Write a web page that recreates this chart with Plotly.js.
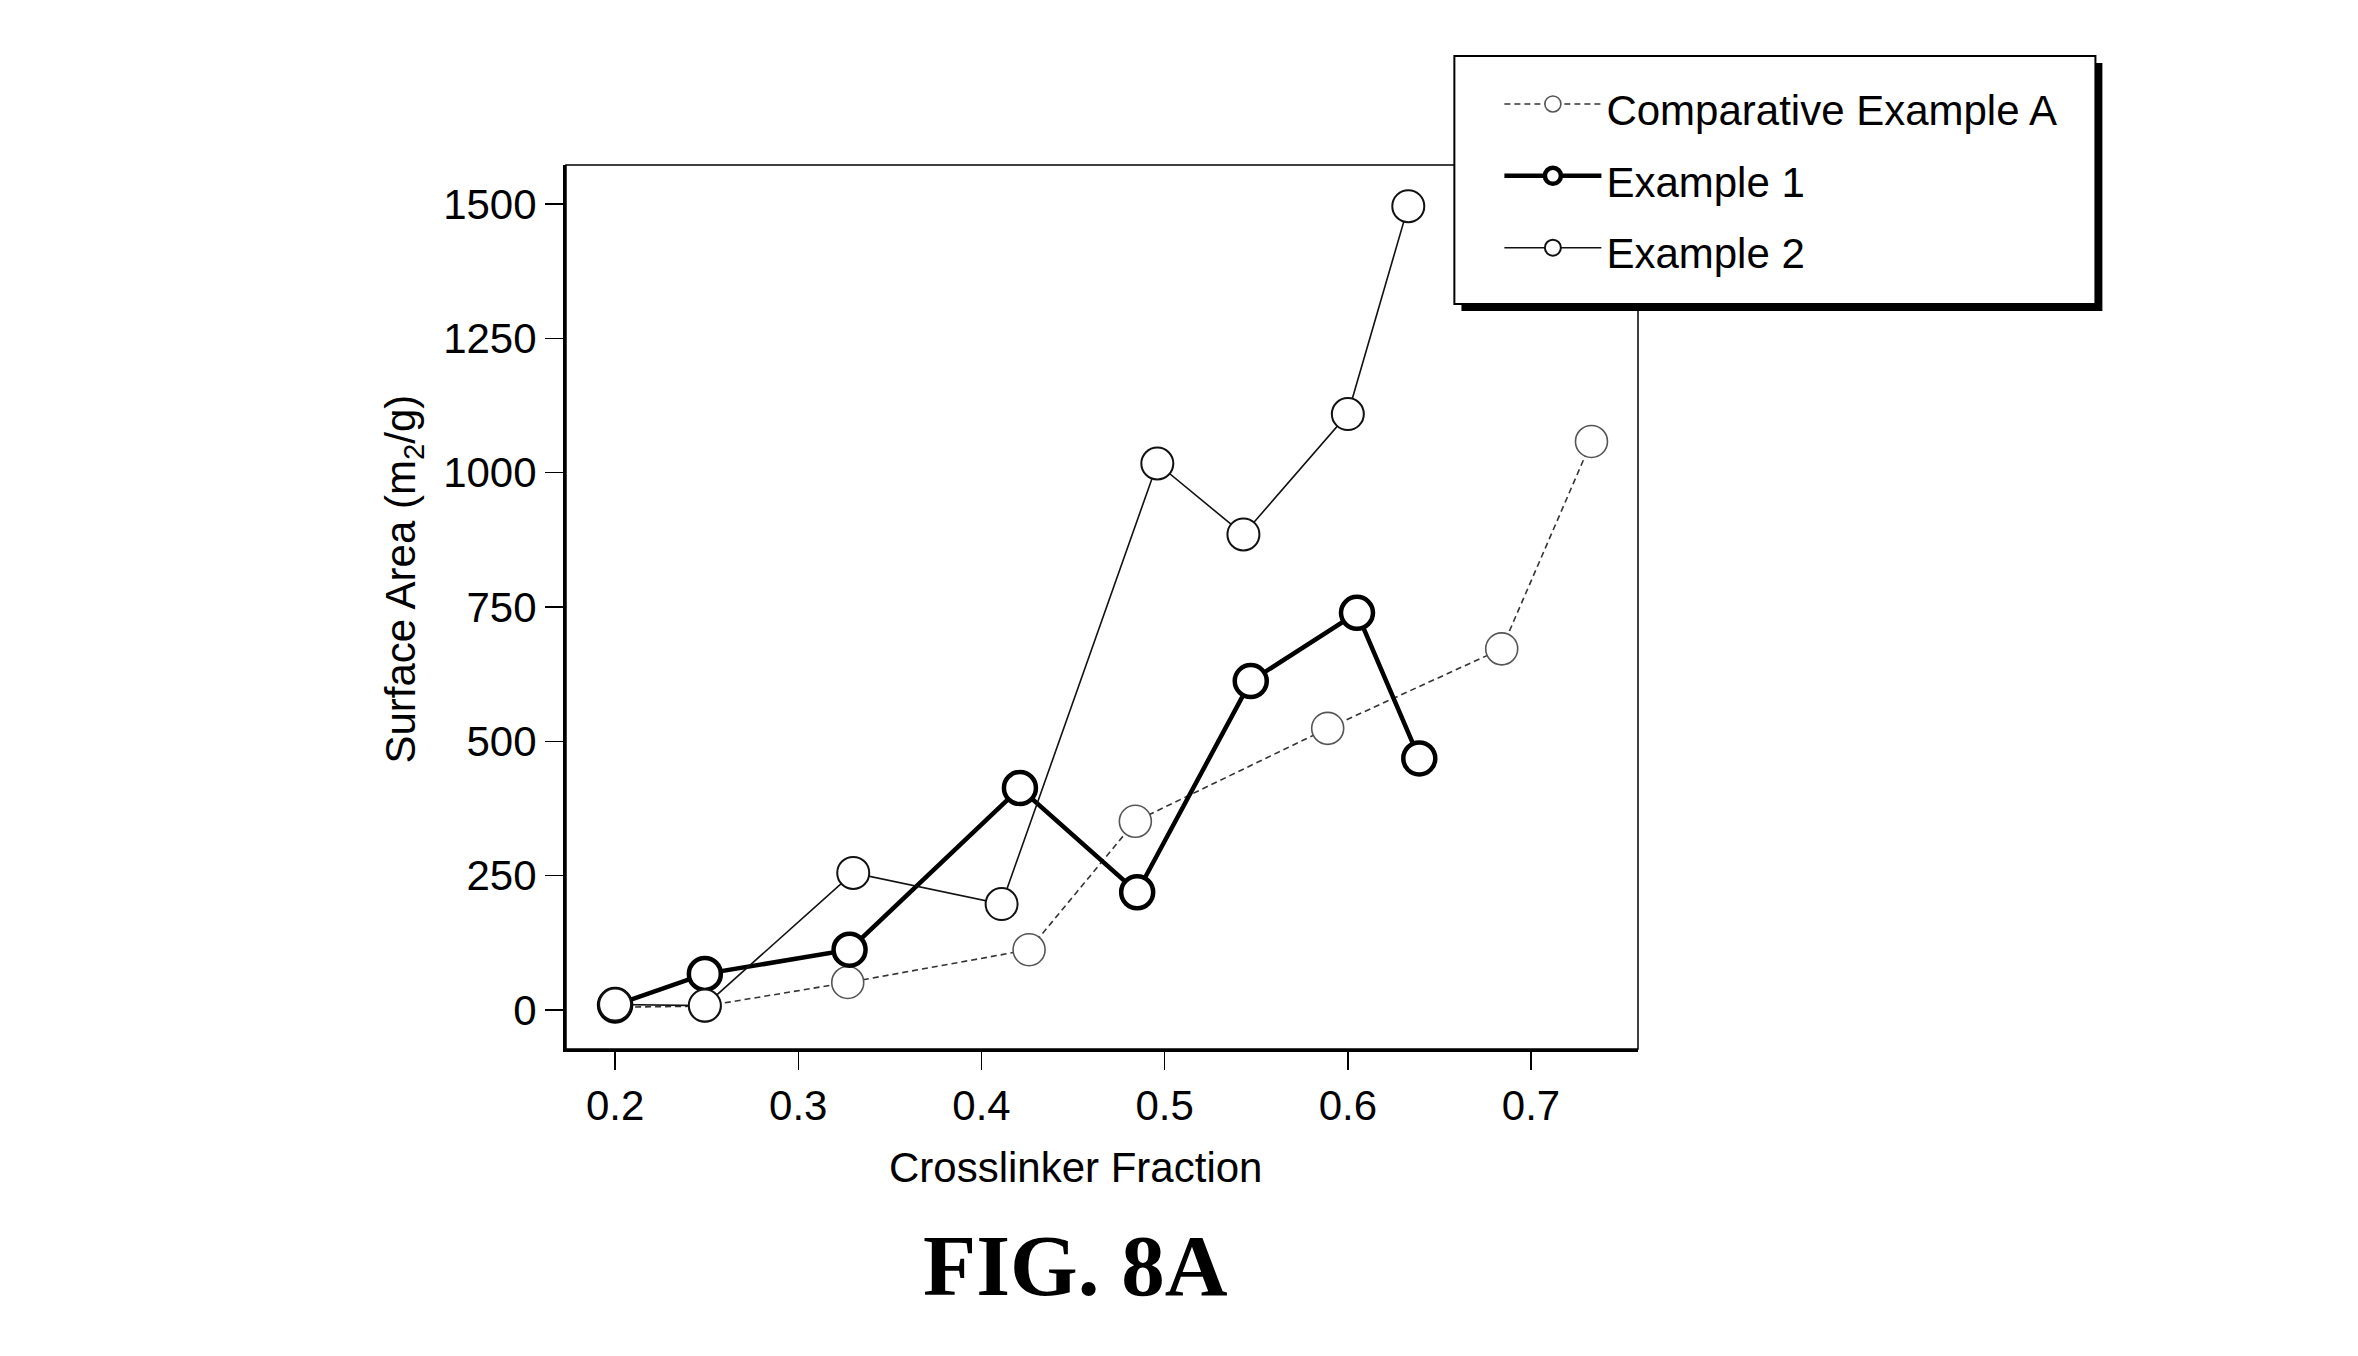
<!DOCTYPE html>
<html>
<head>
<meta charset="utf-8">
<script src="https://cdn.plot.ly/plotly-3.0.1.min.js"></script>
<style>html,body{margin:0;padding:0;background:#fff;}#chart{width:2358px;height:1356px;}</style>
</head>
<body>
<div id="chart"></div>
<script>
// Data
const seriesNames = ["Comparative Example A", "Example 1", "Example 2"];
const compA_x = [0.200, 0.249, 0.327, 0.426, 0.484, 0.589, 0.684, 0.733];
const compA_y = [5, 7, 51, 112, 351, 524, 672, 1058];
const ex1_x = [0.200, 0.249, 0.328, 0.421, 0.485, 0.547, 0.605, 0.639];
const ex1_y = [9, 67, 112, 413, 219, 612, 739, 468];
const ex2_x = [0.200, 0.249, 0.330, 0.411, 0.496, 0.543, 0.600, 0.633];
const ex2_y = [10, 8, 255, 197, 1017, 885, 1109, 1496];
const xTicks = [0.2, 0.3, 0.4, 0.5, 0.6, 0.7];
const yTicks = [0, 250, 500, 750, 1000, 1250, 1500];
const xTitle = "Crosslinker Fraction";
const yTitle = "Surface Area (m<sub>2</sub>/g)";
const figLabel = "FIG. 8A";

const FONT = '"Liberation Sans", Arial, sans-serif';
const legendName = s => '<span style="font-size:42px">' + s + '</span>';

const traces = [
  {
    x: compA_x, y: compA_y, name: legendName(seriesNames[0]), type: 'scatter', mode: 'lines+markers',
    line: {color: '#333', width: 1.6, dash: '6px,4px'},
    marker: {symbol: 'circle', size: 32, color: '#fff', line: {color: '#555', width: 1.6}}
  },
  {
    x: ex1_x, y: ex1_y, name: legendName(seriesNames[1]), type: 'scatter', mode: 'lines+markers',
    line: {color: '#000', width: 4.5},
    marker: {symbol: 'circle', size: 32, color: '#fff', line: {color: '#000', width: 4.5}}
  },
  {
    x: ex2_x, y: ex2_y, name: legendName(seriesNames[2]), type: 'scatter', mode: 'lines+markers',
    line: {color: '#111', width: 1.6},
    marker: {symbol: 'circle', size: 32, color: '#fff', line: {color: '#111', width: 2}}
  }
];

const layout = {
  width: 2358, height: 1356,
  paper_bgcolor: '#fff', plot_bgcolor: '#fff',
  margin: {l: 566, r: 720, t: 165, b: 307, pad: 0},
  font: {family: FONT, size: 42, color: '#000'},
  showlegend: true,
  legend: {
    x: 0.8707, y: 1.1154, xanchor: 'left', yanchor: 'top',
    bgcolor: 'rgba(0,0,0,0)', borderwidth: 0,
    font: {family: FONT, size: 53, color: '#000'},
    itemwidth: 97, tracegroupgap: 0
  },
  xaxis: {
    range: [0.1732, 0.7584], tickvals: xTicks, ticktext: xTicks.map(v => v.toFixed(1)),
    showgrid: false, zeroline: false, showline: true, linecolor: '#000', linewidth: 3,
    ticks: 'outside', ticklen: 18, tickwidth: 1.5, tickcolor: '#000',
    tickfont: {family: FONT, size: 42, color: '#000'}
  },
  yaxis: {
    range: [-72.8, 1572.6], tickvals: yTicks, ticktext: yTicks.map(String),
    showgrid: false, zeroline: false, showline: true, linecolor: '#000', linewidth: 3,
    ticks: 'outside', ticklen: 18, tickwidth: 1.5, tickcolor: '#000',
    tickfont: {family: FONT, size: 42, color: '#000'}
  },
  shapes: [
    {type: 'rect', xref: 'paper', yref: 'paper', x0: 0, x1: 1, y0: 0, y1: 1,
     line: {color: '#000', width: 1.5}, layer: 'above'},
    {type: 'rect', xref: 'paper', yref: 'paper', x0: 0.8353, x1: 1.4332, y0: 0.8348, y1: 1.1154,
     fillcolor: '#000', line: {width: 0}, layer: 'above'},
    {type: 'rect', xref: 'paper', yref: 'paper', x0: 0.8287, x1: 1.4267, y0: 0.8427, y1: 1.1233,
     fillcolor: '#fff', line: {color: '#000', width: 2}, layer: 'above'}
  ],
  annotations: [
    {text: xTitle, xref: 'paper', yref: 'paper', x: 0.4752, y: -0.134, xanchor: 'center', yanchor: 'middle',
     showarrow: false, font: {family: FONT, size: 42, color: '#000'}},
    {text: yTitle, xref: 'paper', yref: 'paper', x: -0.1517, y: 0.5315, xanchor: 'center', yanchor: 'middle',
     textangle: -90, showarrow: false, font: {family: FONT, size: 42, color: '#000'}},
    {text: '<b>' + figLabel + '</b>', xref: 'paper', yref: 'paper', x: 0.4752, y: -0.245, xanchor: 'center', yanchor: 'middle',
     showarrow: false, font: {family: '"Liberation Serif", "Times New Roman", serif', size: 87, color: '#000'}}
  ]
};

Plotly.newPlot('chart', traces, layout, {displayModeBar: false, staticPlot: true});
</script>
</body>
</html>
